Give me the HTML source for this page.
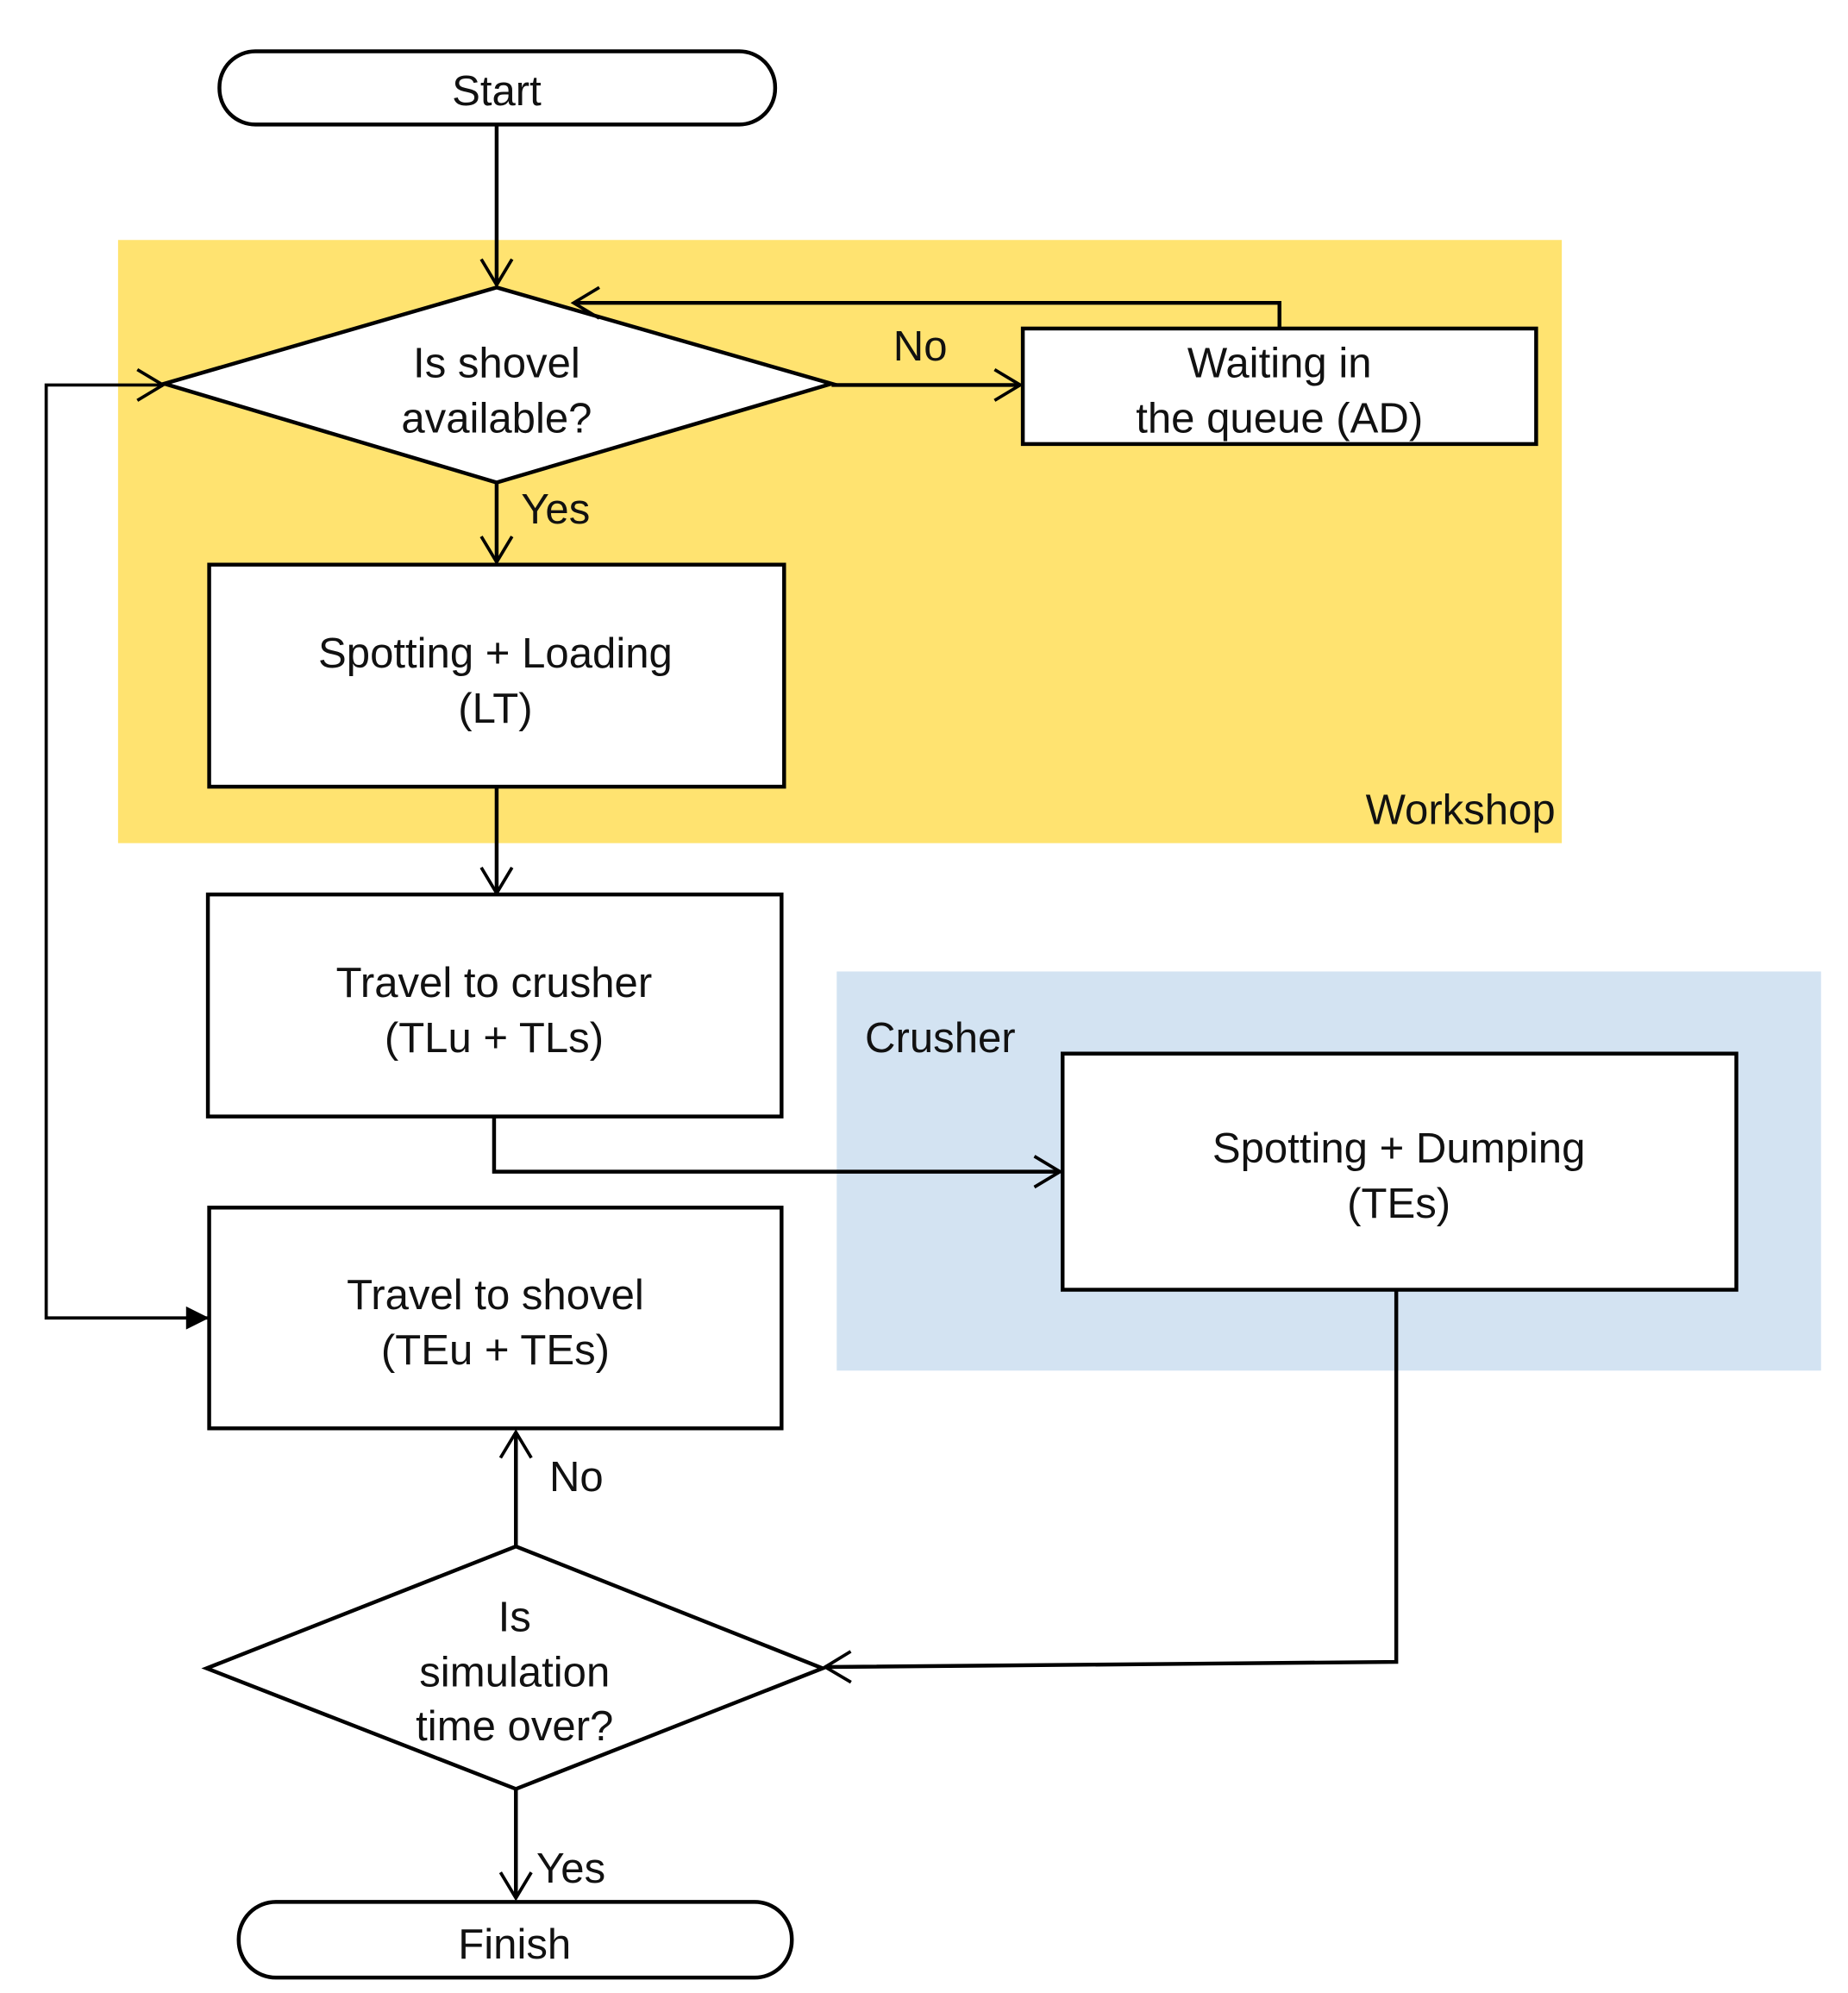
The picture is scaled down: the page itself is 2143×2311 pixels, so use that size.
<!DOCTYPE html>
<html><head><meta charset="utf-8"><style>
html,body{margin:0;padding:0;background:#fff;}
svg{display:block;}
text{font-family:"Liberation Sans","Noto Sans CJK KR",sans-serif;font-size:33px;fill:#111;}
</style></head><body>
<svg width="2143" height="2311" viewBox="0 0 1440 1553" preserveAspectRatio="none" xmlns="http://www.w3.org/2000/svg">
<defs>
<marker id="o" markerWidth="30" markerHeight="30" refX="26" refY="15" orient="auto" markerUnits="userSpaceOnUse">
<path d="M6,3 L26,15 L6,27" fill="none" stroke="#000" stroke-width="2.5"/>
</marker>
<marker id="f" markerWidth="24" markerHeight="24" refX="20" refY="12" orient="auto" markerUnits="userSpaceOnUse">
<path d="M2,3 L20,12 L2,21 Z" fill="#000"/>
</marker>
</defs>
<rect x="0" y="0" width="1440" height="1553" fill="#fff"/>
<rect x="92" y="187" width="1125" height="470" fill="#FFE370"/>
<rect x="652" y="757" width="767" height="311" fill="#D3E3F2"/>
<g fill="none" stroke="#000" stroke-width="3">
<rect x="171" y="40" width="433" height="57" rx="28" fill="#fff"/>
<line x1="387" y1="97" x2="387" y2="222" marker-end="url(#o)"/>
<polygon points="387,224 648,299 387,376 128,299" fill="#fff"/>
<line x1="648" y1="300" x2="795" y2="300" marker-end="url(#o)"/>
<rect x="797" y="256" width="400" height="90" fill="#fff"/>
<polyline points="997,256 997,236 447,236" marker-end="url(#o)"/>
<line x1="387" y1="376" x2="387" y2="438" marker-end="url(#o)"/>
<rect x="163" y="440" width="448" height="173" fill="#fff"/>
<line x1="387" y1="613" x2="387" y2="696" marker-end="url(#o)"/>
<rect x="162" y="697" width="447" height="173" fill="#fff"/>
<rect x="828" y="821" width="525" height="184" fill="#fff"/>
<polyline points="385,870 385,913 826,913" marker-end="url(#o)"/>
<rect x="163" y="941" width="446" height="172" fill="#fff"/>
<polyline points="126,300 36,300 36,1027 163,1027" stroke-width="2.5" marker-end="url(#f)"/>
<line x1="126" y1="300" x2="127" y2="300" marker-end="url(#o)"/>
<polyline points="1088,1005 1088,1295 643,1299" marker-end="url(#o)"/>
<polygon points="402,1205 641,1300 402,1394 161,1300" fill="#fff"/>
<line x1="402" y1="1205" x2="402" y2="1116" marker-end="url(#o)"/>
<line x1="402" y1="1394" x2="402" y2="1479" marker-end="url(#o)"/>
<rect x="186" y="1482" width="431" height="59" rx="29" fill="#fff"/>
</g>
<g text-anchor="middle">
<text x="387" y="82">Start</text>
<text x="387" y="294">Is shovel</text>
<text x="387" y="337">available?</text>
<text x="997" y="294">Waiting in</text>
<text x="997" y="337">the queue (AD)</text>
<text x="386" y="520">Spotting + Loading</text>
<text x="386" y="563">(LT)</text>
<text x="385" y="777">Travel to crusher</text>
<text x="385" y="820">(TLu + TLs)</text>
<text x="1090" y="906">Spotting + Dumping</text>
<text x="1090" y="949">(TEs)</text>
<text x="386" y="1020">Travel to shovel</text>
<text x="386" y="1063">(TEu + TEs)</text>
<text x="401" y="1271">Is</text>
<text x="401" y="1314">simulation</text>
<text x="401" y="1356">time over?</text>
<text x="401" y="1526">Finish</text>
</g>
<text x="696" y="281">No</text>
<text x="406" y="408">Yes</text>
<text x="1212" y="642" text-anchor="end">Workshop</text>
<text x="674" y="820">Crusher</text>
<text x="428" y="1162">No</text>
<text x="418" y="1467">Yes</text>
</svg>
</body></html>
